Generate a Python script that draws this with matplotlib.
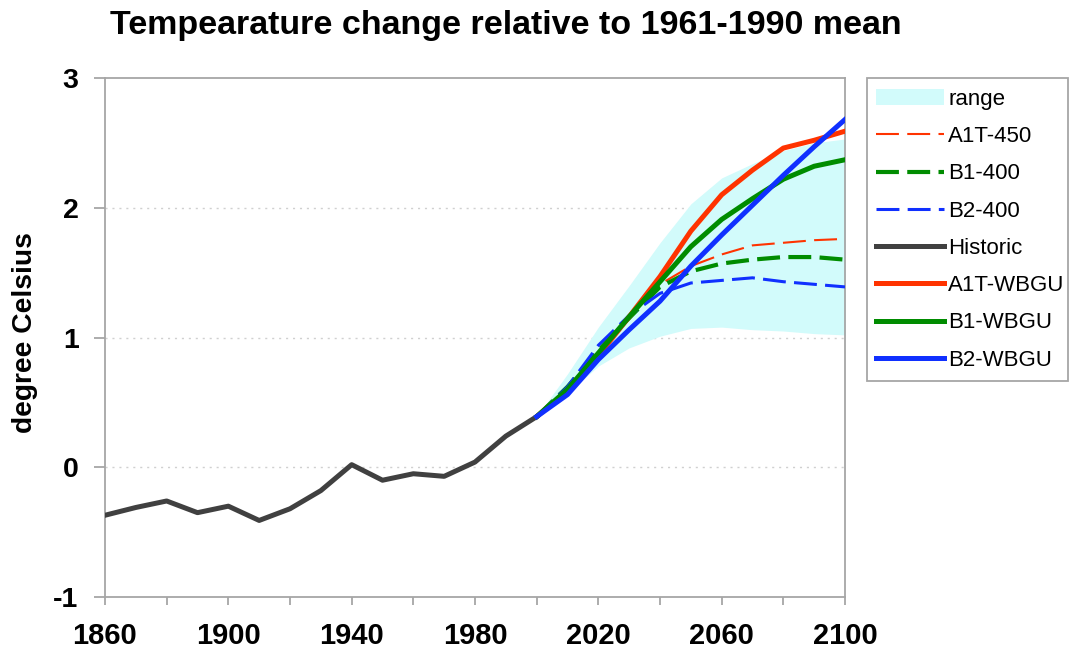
import matplotlib
matplotlib.use("Agg")
import matplotlib.pyplot as plt
from matplotlib.patches import Patch, Rectangle

plt.rcParams['font.family'] = ['Liberation Sans', 'DejaVu Sans']

# Observed decadal temperature anomaly (deg C)
hist_years = [1860, 1870, 1880, 1890, 1900, 1910, 1920, 1930, 1940, 1950,
              1960, 1970, 1980, 1990, 2000]
historic = [-0.37, -0.31, -0.26, -0.35, -0.30, -0.41, -0.32, -0.18, 0.02, -0.10,
            -0.05, -0.07, 0.04, 0.24, 0.39]

# Scenario projections
proj_years = [2000, 2010, 2020, 2030, 2040, 2050, 2060, 2070, 2080, 2090, 2100]
range_low = [0.39, 0.57, 0.78, 0.92, 1.01, 1.07, 1.08, 1.06, 1.05, 1.03, 1.02]
range_high = [0.39, 0.72, 1.08, 1.40, 1.73, 2.03, 2.23, 2.34, 2.44, 2.50, 2.53]
a1t_450 = [0.39, 0.62, 0.90, 1.15, 1.41, 1.55, 1.64, 1.71, 1.73, 1.75, 1.76]
b1_400 = [0.39, 0.62, 0.90, 1.15, 1.39, 1.51, 1.57, 1.60, 1.62, 1.62, 1.60]
b2_400 = [0.39, 0.62, 0.94, 1.17, 1.34, 1.42, 1.44, 1.46, 1.43, 1.41, 1.39]
a1t_wbgu = [0.39, 0.59, 0.86, 1.16, 1.47, 1.82, 2.10, 2.29, 2.46, 2.52, 2.59]
b1_wbgu = [0.39, 0.60, 0.88, 1.16, 1.43, 1.70, 1.91, 2.07, 2.22, 2.32, 2.37]
b2_wbgu = [0.39, 0.56, 0.83, 1.06, 1.28, 1.55, 1.79, 2.02, 2.25, 2.47, 2.68]

y_ticks = [-1, 0, 1, 2, 3]
x_ticks = [1860, 1900, 1940, 1980, 2020, 2060, 2100]

RED = '#FF3300'
GREEN = '#008C00'
BLUE = '#1030FF'
DARK = '#404040'
BAND = '#D2FBFB'
AXIS = '#A6A6A6'

W, H = 1078, 655
fig = plt.figure(figsize=(W / 100, H / 100), dpi=100)
ax = fig.add_axes([105 / W, 1 - 597 / H, (845 - 105) / W, (597 - 78) / H])

ax.fill_between(proj_years, range_low, range_high, color=BAND, linewidth=0, zorder=1)

l1, = ax.plot(proj_years, a1t_450, color=RED, lw=1.5, dashes=(11, 4), zorder=3)
l2, = ax.plot(proj_years, b1_400, color=GREEN, lw=3.0, dashes=(5.5, 2), zorder=4)
l3, = ax.plot(proj_years, b2_400, color=BLUE, lw=2.2, dashes=(7.5, 2.7), zorder=5)
l4, = ax.plot(hist_years, historic, color=DARK, lw=3.6, zorder=6)
l5, = ax.plot(proj_years, a1t_wbgu, color=RED, lw=3.6, zorder=7)
l6, = ax.plot(proj_years, b1_wbgu, color=GREEN, lw=3.6, zorder=8)
l7, = ax.plot(proj_years, b2_wbgu, color=BLUE, lw=3.6, zorder=9)

ax.set_xlim(1860, 2100)
ax.set_ylim(-1, 3)
ax.set_xticks(x_ticks)
ax.set_xticks(range(1880, 2100, 40), minor=True)
ax.set_yticks(y_ticks)
ax.set_xticklabels([str(x) for x in x_ticks], fontsize=21, fontweight='bold')
ax.set_yticklabels([str(y) for y in y_ticks], fontsize=20.5, fontweight='bold')

for y in [0, 1, 2]:
    ax.axhline(y, color='#D0D0D0', lw=1.0, dashes=(1.5, 3.5), zorder=0.5)

for s in ax.spines.values():
    s.set_color(AXIS)
    s.set_linewidth(1.3)
ax.tick_params(axis='both', which='both', color=AXIS, width=1.3, direction='out')
ax.tick_params(axis='x', which='both', length=6, pad=12)
ax.tick_params(axis='y', length=8, pad=11)

fig.text(25 / W, 1 - 333 / H, 'degree Celsius', rotation=90, fontsize=20.3,
         fontweight='bold', ha='center', va='center')
fig.text(506 / W, 1 - 34 / H, 'Tempearature change relative to 1961-1990 mean',
         fontsize=24.5, fontweight='bold', ha='center', va='baseline')

handles = [Patch(facecolor=BAND, edgecolor='none'), l1, l2, l3, l4, l5, l6, l7]
labels = ['range', 'A1T-450', 'B1-400', 'B2-400', 'Historic', 'A1T-WBGU',
          'B1-WBGU', 'B2-WBGU']
fig.legend(handles, labels, loc='upper left',
           bbox_to_anchor=(876 / W, 1 - 89 / H), borderaxespad=0, borderpad=0,
           fontsize=16, frameon=False,
           handlelength=3.05, handletextpad=0.2, labelspacing=0.73)
fig.add_artist(Rectangle((867 / W, 1 - 381 / H), 201 / W, 303 / H,
                         transform=fig.transFigure, fill=False,
                         edgecolor=AXIS, linewidth=1.3))

fig.savefig('out.png', dpi=100)
